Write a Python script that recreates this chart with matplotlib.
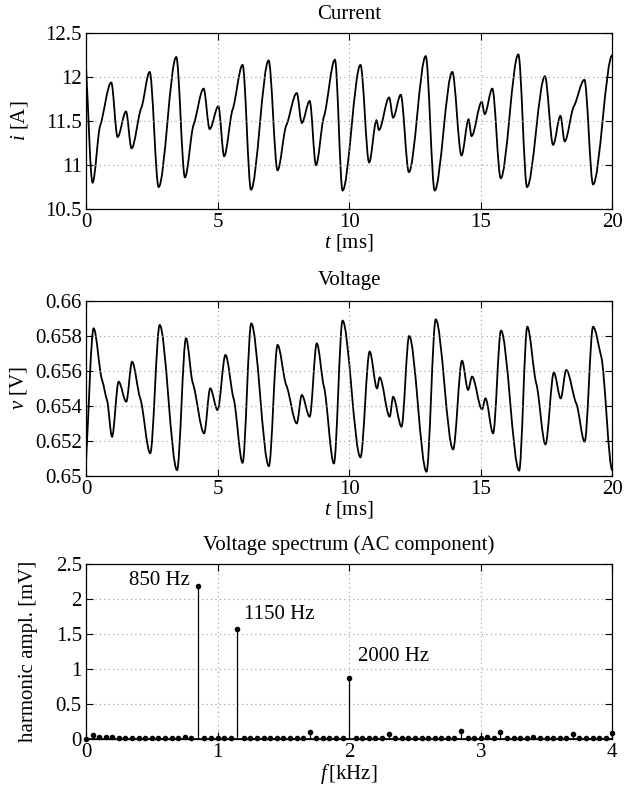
import numpy as np
import matplotlib
matplotlib.use("Agg")
import matplotlib.pyplot as plt
from matplotlib.path import Path
from matplotlib.patches import PathPatch
from matplotlib.ticker import FuncFormatter

plt.rcParams['font.family'] = ['Liberation Serif', 'DejaVu Serif']
plt.rcParams['mathtext.fontset'] = 'custom'
plt.rcParams['mathtext.rm'] = 'Liberation Serif'
plt.rcParams['mathtext.it'] = 'Liberation Serif:italic'
plt.rcParams['font.size'] = 15

# ---- Current waveform: key points (extrema / shoulders) ----
current_t = [0.00, 0.25, 0.54, 0.96, 1.20, 1.52, 1.73, 2.10, 2.42, 2.76, 3.43, 3.76,
             4.09, 4.47, 4.70, 5.03, 5.25, 5.57, 5.95, 6.27, 6.94, 7.28, 7.61, 8.01,
             8.20, 8.50, 8.74, 9.04, 9.46, 9.75, 10.43, 10.76, 11.04, 11.13, 11.52,
             11.67, 11.96, 12.27, 12.91, 13.25, 13.92, 14.27, 14.54, 14.65, 15.04,
             15.15, 15.44, 15.76, 16.43, 16.76, 17.44, 17.75, 18.03, 18.19, 18.54,
             18.94, 19.27, 20.00]
current_i = [12.12, 10.80, 11.45, 11.94, 11.32, 11.61, 11.19, 11.65, 12.06, 10.75, 12.23, 10.86,
             11.46, 11.87, 11.41, 11.67, 11.10, 11.63, 12.14, 10.72, 12.19, 10.94, 11.45, 11.82,
             11.48, 11.73, 11.00, 11.55, 12.20, 10.71, 12.14, 11.03, 11.51, 11.40, 11.77,
             11.54, 11.80, 10.92, 12.24, 10.71, 12.06, 11.11, 11.52, 11.33, 11.72,
             11.58, 11.87, 10.85, 12.26, 10.75, 12.01, 11.23, 11.56, 11.27, 11.67,
             11.97, 10.78, 12.25]

# ---- Voltage waveform: key points (mV) ----
voltage_t = [0.00, 0.29, 0.61, 0.80, 0.99, 1.24, 1.53, 1.75, 2.06, 2.44, 2.80, 3.46,
             3.80, 4.06, 4.49, 4.72, 5.00, 5.30, 5.61, 5.95, 6.28, 6.95, 7.28, 7.61,
             8.01, 8.20, 8.50, 8.77, 9.04, 9.42, 9.75, 10.43, 10.78, 11.06, 11.16,
             11.54, 11.67, 11.99, 12.28, 12.94, 13.29, 13.95, 14.29, 14.52, 14.67,
             15.05, 15.18, 15.47, 15.77, 16.46, 16.77, 17.11, 17.46, 17.78, 18.04,
             18.25, 18.63, 18.95, 19.27, 19.58, 20.00]
voltage_mv = [650.8, 658.42, 655.47, 654.30, 652.23, 655.37, 654.23, 656.51, 654.42, 651.28, 658.61, 650.32,
              657.85, 655.28, 652.42, 654.99, 653.75, 656.90, 654.40, 650.74, 658.70, 650.55, 657.47, 655.18,
              652.99, 654.61, 653.37, 657.56, 655.10, 650.70, 658.86, 651.05, 657.09, 654.99, 655.62,
              653.37, 654.51, 652.80, 657.98, 650.23, 658.93, 651.50, 656.57, 654.90, 655.66,
              653.79, 654.42, 652.42, 658.29, 650.29, 658.51, 655.28, 651.79, 655.89, 654.42,
              656.04, 654.13, 651.94, 658.51, 656.80, 650.32]

# ---- Voltage spectrum (AC component) ----
spec_f_khz = np.arange(0, 81) * 0.05
spec_amp_mv = [0.00, 0.06, 0.03, 0.03, 0.03, 0.02, 0.02, 0.02, 0.02, 0.02,
               0.02, 0.02, 0.02, 0.02, 0.02, 0.03, 0.02, 2.19, 0.02, 0.02,
               0.02, 0.02, 0.02, 1.58, 0.02, 0.02, 0.02, 0.02, 0.02, 0.02,
               0.02, 0.02, 0.02, 0.02, 0.10, 0.02, 0.02, 0.02, 0.02, 0.02,
               0.88, 0.02, 0.02, 0.02, 0.02, 0.02, 0.07, 0.02, 0.02, 0.02,
               0.02, 0.02, 0.02, 0.02, 0.02, 0.02, 0.02, 0.12, 0.02, 0.02,
               0.02, 0.03, 0.02, 0.11, 0.02, 0.02, 0.02, 0.02, 0.03, 0.02,
               0.02, 0.02, 0.02, 0.02, 0.07, 0.02, 0.02, 0.02, 0.02, 0.02,
               0.085]
peak_labels = ['850 Hz', '1150 Hz', '2000 Hz']
peak_label_pos = [(0.79, 2.27, 'right'), (1.20, 1.78, 'left'), (2.07, 1.18, 'left')]


def smooth_path(x, y, shoulder=0.5):
    """Cubic Hermite (Bezier) path through key points, flat at extrema."""
    x = np.asarray(x, float)
    y = np.asarray(y, float)
    n = len(x)
    m = np.zeros(n)
    for k in range(n):
        if k == 0:
            m[k] = (y[1] - y[0]) / (x[1] - x[0])
        elif k == n - 1:
            m[k] = 0.0
        else:
            a, b, c = y[k - 1], y[k], y[k + 1]
            if (b - a) * (c - b) <= 0:
                m[k] = 0.0
            else:
                m[k] = shoulder * (c - a) / (x[k + 1] - x[k - 1])
    verts = [(x[0], y[0])]
    codes = [Path.MOVETO]
    for k in range(n - 1):
        d = x[k + 1] - x[k]
        verts += [(x[k] + d / 3, y[k] + m[k] * d / 3),
                  (x[k + 1] - d / 3, y[k + 1] - m[k + 1] * d / 3),
                  (x[k + 1], y[k + 1])]
        codes += [Path.CURVE4] * 3
    return Path(verts, codes)


fmt = FuncFormatter(lambda v, p: ('%g' % round(v, 6)))

fig = plt.figure(figsize=(6.24, 7.93), dpi=100)
W, H = 624, 793
def axes_px(x0, x1, ytop, ybot):
    return fig.add_axes([x0 / W, 1 - ybot / H, (x1 - x0) / W, (ybot - ytop) / H])

ax1 = axes_px(86, 612.3, 33.3, 209)
ax2 = axes_px(86, 612.3, 300.7, 475.7)
ax3 = axes_px(86, 612.3, 564.3, 739.3)

for ax in (ax1, ax2, ax3):
    ax.tick_params(direction='in', top=True, right=True, length=5, width=0.8,
                   labelsize=15, pad=3)
    ax.grid(True, linestyle=(0, (1, 3)), color='#9a9a9a', linewidth=0.8)
    for s in ax.spines.values():
        s.set_linewidth(0.9)
    ax.yaxis.set_major_formatter(fmt)
    ax.xaxis.set_major_formatter(fmt)

# Current
ax1.add_patch(PathPatch(smooth_path(current_t, current_i), facecolor='none',
                        edgecolor='black', lw=1.3))
ax1.set_xlim(0, 20)
ax1.set_ylim(10.5, 12.5)
ax1.set_xticks([0, 5, 10, 15, 20])
ax1.set_yticks([10.5, 11, 11.5, 12, 12.5])
ax1.set_title('Current', fontsize=15, pad=10)
ax1.set_xlabel('$t$ [ms]', labelpad=0)
ax1.set_ylabel('$i$ [A]', labelpad=11)

# Voltage
vv = [v / 1000.0 for v in voltage_mv]
ax2.add_patch(PathPatch(smooth_path(voltage_t, vv), facecolor='none',
                        edgecolor='black', lw=1.3))
ax2.set_xlim(0, 20)
ax2.set_ylim(0.65, 0.66)
ax2.set_xticks([0, 5, 10, 15, 20])
ax2.set_yticks([0.65, 0.652, 0.654, 0.656, 0.658, 0.66])
ax2.set_title('Voltage', fontsize=15, pad=11)
ax2.set_xlabel('$t$ [ms]', labelpad=0)
ax2.set_ylabel('$v$ [V]', labelpad=4)

# Spectrum
ml, sl, bl = ax3.stem(spec_f_khz, spec_amp_mv, linefmt='k-', markerfmt='k.', basefmt='k-')
ml.set_markersize(6)
ml.set_clip_on(False)
sl.set_linewidth(0.9)
bl.set_linewidth(1.2)
ax3.set_xlim(0, 4)
ax3.set_ylim(0, 2.5)
ax3.set_xticks([0, 1, 2, 3, 4])
ax3.set_yticks([0, 0.5, 1, 1.5, 2, 2.5])
for lab, (xp, yp, ha) in zip(peak_labels, peak_label_pos):
    ax3.text(xp, yp, lab, ha=ha, va='center', fontsize=15)
ax3.set_title('Voltage spectrum (AC component)', fontsize=15, pad=10)
ax3.set_xlabel('$f\\,$[kHz]', labelpad=0)
ax3.set_ylabel('harmonic ampl. [mV]', labelpad=13)

fig.savefig('out.png', dpi=100)
